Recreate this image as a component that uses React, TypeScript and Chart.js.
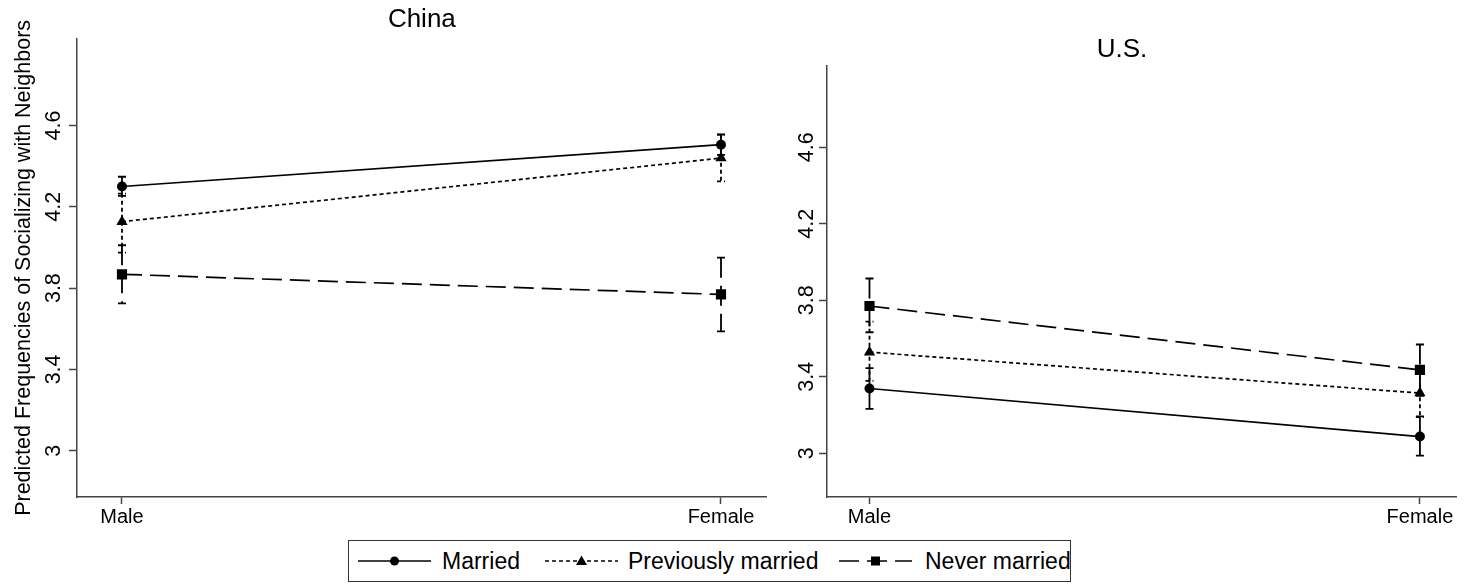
import React, { useEffect, useRef } from 'react';
import { Chart, registerables } from 'chart.js';
Chart.register(...registerables);

// ---------- data ----------
const categories = ['Male', 'Female'];
const yTickValues = [3, 3.4, 3.8, 4.2, 4.6];
const seriesNames = ['Married', 'Previously married', 'Never married'];

const chinaMarried = [4.30, 4.506];
const chinaMarriedLo = [4.254, 4.456];
const chinaMarriedHi = [4.348, 4.556];
const chinaPrev = [4.127, 4.44];
const chinaPrevLo = [3.975, 4.325];
const chinaPrevHi = [4.265, 4.555];
const chinaNever = [3.868, 3.769];
const chinaNeverLo = [3.725, 3.587];
const chinaNeverHi = [4.011, 3.95];

const usMarried = [3.339, 3.088];
const usMarriedLo = [3.233, 2.988];
const usMarriedHi = [3.445, 3.193];
const usPrev = [3.529, 3.315];
const usPrevLo = [3.379, 3.19];
const usPrevHi = [3.688, 3.44];
const usNever = [3.77, 3.436];
const usNeverLo = [3.633, 3.30];
const usNeverHi = [3.914, 3.569];

// ---------- styles ----------
const FONT = "'Liberation Sans', Arial, Helvetica, sans-serif";
const AXIS_COLOR = '#444';
const seriesStyles = [
  { dash: [] as number[], pointStyle: 'circle', radius: 5 },
  { dash: [4, 3], pointStyle: 'triangle', radius: 6.5 },
  { dash: [20, 8], pointStyle: 'rect', radius: 7.2 },
];

const errorBarPlugin = {
  id: 'errorBars',
  beforeDatasetsDraw(chart: any) {
    const ctx = chart.ctx;
    const xs = chart.scales.x;
    const ys = chart.scales.y;
    chart.data.datasets.forEach((ds: any) => {
      if (!ds.errLo) return;
      ctx.save();
      ctx.strokeStyle = '#000';
      ctx.lineWidth = 1.8;
      ctx.setLineDash(ds.borderDash || []);
      ds.data.forEach((p: any, j: number) => {
        const x = xs.getPixelForValue(p.x);
        const yl = ys.getPixelForValue(ds.errLo[j]);
        const yh = ys.getPixelForValue(ds.errHi[j]);
        ctx.beginPath();
        ctx.moveTo(x, yh);
        ctx.lineTo(x, yl);
        ctx.stroke();
        ctx.beginPath();
        ctx.moveTo(x - 4, yh);
        ctx.lineTo(x + 4, yh);
        ctx.moveTo(x - 4, yl);
        ctx.lineTo(x + 4, yl);
        ctx.stroke();
      });
      ctx.restore();
    });
  },
};

type Series = { values: number[]; lo: number[]; hi: number[] };

type PanelProps = {
  title: string;
  titleFull: boolean;
  left: number;
  width: number;
  series: Series[];
  yTitle?: string;
  yWidth: number;
  yTickPad: number;
  xMin: number;
  xMax: number;
  titlePad: { top: number; bottom: number };
  padRight: number;
};

function Panel(props: PanelProps) {
  const ref = useRef<HTMLCanvasElement>(null);
  useEffect(() => {
    const p = props;
    const chart = new Chart(ref.current as HTMLCanvasElement, {
      type: 'line',
      data: {
        datasets: p.series.map((s, k) => ({
          label: seriesNames[k],
          data: categories.map((_, i) => ({ x: i, y: s.values[i] })),
          borderColor: '#000',
          borderWidth: 1.7,
          borderDash: seriesStyles[k].dash,
          pointStyle: seriesStyles[k].pointStyle as any,
          pointRadius: seriesStyles[k].radius,
          pointBackgroundColor: '#000',
          pointBorderColor: '#000',
          pointBorderWidth: 0,
          tension: 0,
          fill: false,
          errLo: s.lo,
          errHi: s.hi,
        })) as any,
      },
      options: {
        animation: false,
        responsive: false,
        layout: { padding: { left: 0, right: p.padRight, top: 0, bottom: 0 } },
        plugins: {
          legend: { display: false },
          tooltip: { enabled: false },
          title: {
            display: true,
            text: p.title,
            color: '#000',
            fullSize: p.titleFull,
            font: { family: FONT, size: 26, weight: 'normal' as any },
            padding: p.titlePad,
          },
        },
        scales: {
          x: {
            type: 'linear',
            min: p.xMin,
            max: p.xMax,
            grid: { drawOnChartArea: false, drawTicks: true, tickLength: 7, tickColor: AXIS_COLOR, tickWidth: 1.5 },
            border: { display: true, color: AXIS_COLOR, width: 1.5 },
            ticks: {
              color: '#000',
              font: { family: FONT, size: 20 },
              padding: 1,
              minRotation: 0,
              maxRotation: 0,
              callback: (v: any) => categories[v as number] ?? '',
            },
            afterBuildTicks: (s: any) => {
              s.ticks = categories.map((_, i) => ({ value: i }));
            },
            afterFit: (s: any) => {
              s.height = 43;
            },
          },
          y: {
            type: 'linear',
            min: 2.772,
            max: 5.027,
            grid: { drawOnChartArea: false, drawTicks: true, tickLength: 8, tickColor: AXIS_COLOR, tickWidth: 1.5 },
            border: { display: true, color: AXIS_COLOR, width: 1.5 },
            ticks: {
              color: '#000',
              font: { family: FONT, size: 21.5 },
              padding: p.yTickPad,
              minRotation: 90,
              maxRotation: 90,
              crossAlign: 'center',
              callback: (v: any) => String(v),
            },
            title: {
              display: !!p.yTitle,
              text: p.yTitle || '',
              color: '#000',
              font: { family: FONT, size: 21.5 },
              padding: { top: 11, bottom: 0 },
            },
            afterBuildTicks: (s: any) => {
              s.ticks = yTickValues.map((v) => ({ value: v }));
            },
            afterFit: (s: any) => {
              s.width = p.yWidth;
            },
          },
        },
      } as any,
      plugins: [errorBarPlugin],
    });
    return () => chart.destroy();
  }, []);
  return (
    <canvas
      ref={ref}
      width={props.width}
      height={540}
      style={{ position: 'absolute', left: props.left, top: 0, width: props.width, height: 540, display: 'block' }}
    />
  );
}

function Sample({ k }: { k: number }) {
  const st = seriesStyles[k];
  const w = 73;
  const cx = w / 2;
  const cy = 10;
  let marker: any = null;
  if (st.pointStyle === 'circle') marker = <circle cx={cx} cy={cy} r={4.5} fill="#000" />;
  else if (st.pointStyle === 'triangle')
    marker = <polygon points={`${cx},${cy - 5.5} ${cx + 5.5},${cy + 4} ${cx - 5.5},${cy + 4}`} fill="#000" />;
  else marker = <rect x={cx - 4.5} y={cy - 4.5} width={9} height={9} fill="#000" />;
  return (
    <svg width={w} height={20} style={{ display: 'block' }}>
      <line x1={0} y1={cy} x2={w} y2={cy} stroke="#000" strokeWidth={1.6} strokeDasharray={st.dash.length ? st.dash.join(' ') : undefined} />
      {marker}
    </svg>
  );
}

const legendSampleX = [9, 196, 490];
const legendTextX = [93, 279, 576];

function Legend() {
  return (
    <div
      style={{
        position: 'absolute',
        left: 348,
        top: 540,
        width: 723,
        height: 42,
        border: '1px solid #333',
        boxSizing: 'border-box',
        fontFamily: FONT,
        fontSize: 23,
        color: '#000',
        background: '#fff',
      }}
    >
      {seriesNames.map((name, k) => (
        <React.Fragment key={name}>
          <div style={{ position: 'absolute', left: legendSampleX[k], top: 10 }}>
            <Sample k={k} />
          </div>
          <div style={{ position: 'absolute', left: legendTextX[k], top: 0, lineHeight: '40px', whiteSpace: 'nowrap' }}>{name}</div>
        </React.Fragment>
      ))}
    </div>
  );
}

export default function App() {
  const china: Series[] = [
    { values: chinaMarried, lo: chinaMarriedLo, hi: chinaMarriedHi },
    { values: chinaPrev, lo: chinaPrevLo, hi: chinaPrevHi },
    { values: chinaNever, lo: chinaNeverLo, hi: chinaNeverHi },
  ];
  const us: Series[] = [
    { values: usMarried, lo: usMarriedLo, hi: usMarriedHi },
    { values: usPrev, lo: usPrevLo, hi: usPrevHi },
    { values: usNever, lo: usNeverLo, hi: usNeverHi },
  ];
  return (
    <div style={{ position: 'absolute', left: 0, top: 0, width: 1464, height: 584, background: '#fff', overflow: 'hidden' }}>
      <Panel
        title="China"
        titleFull={false}
        left={0}
        width={843}
        series={china}
        yTitle="Predicted Frequencies of Socializing with Neighbors"
        yWidth={77}
        yTickPad={0}
        xMin={-0.0751}
        xMax={1.0763}
        titlePad={{ top: 4, bottom: 3.6 }}
        padRight={76.3}
      />
      <Panel
        title="U.S."
        titleFull={true}
        left={780}
        width={684}
        series={us}
        yWidth={47}
        yTickPad={-3}
        xMin={-0.0772}
        xMax={1.067}
        titlePad={{ top: 33.8, bottom: 0.5 }}
        padRight={0}
      />
      <Legend />
    </div>
  );
}
